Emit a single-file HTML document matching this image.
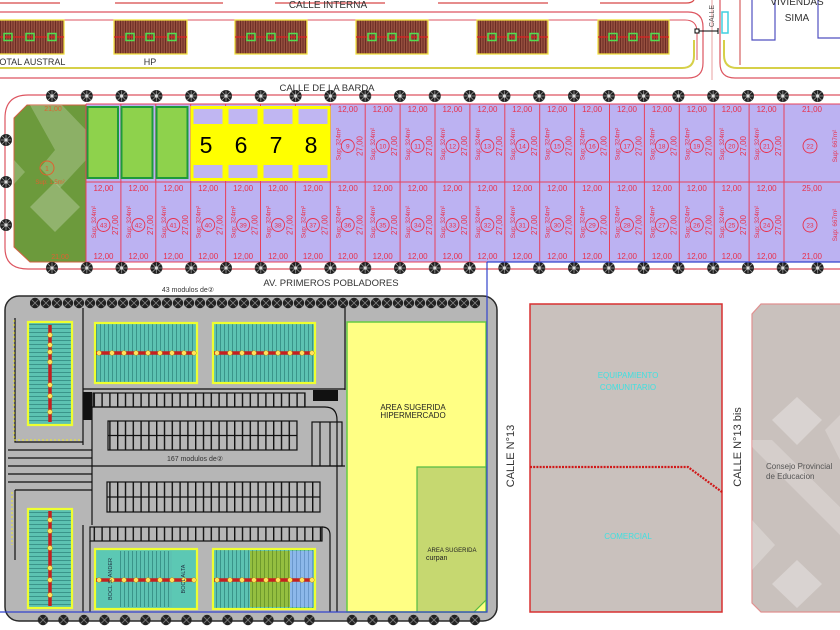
<!DOCTYPE html>
<html><head><meta charset="utf-8">
<style>
html,body{margin:0;padding:0;background:#fff;}
svg{display:block;font-family:"Liberation Sans",Arial,sans-serif;}
.m{font-size:8px;fill:#e8304c;text-anchor:middle}
.s{font-size:6.3px;fill:#e8304c;text-anchor:middle}
.n{font-size:6.5px;fill:#e8304c;text-anchor:middle}
.c{fill:none;stroke:#e8304c;stroke-width:0.9}
.big{font-size:23px;fill:#000;text-anchor:middle}
</style></head><body>
<svg width="840" height="630" viewBox="0 0 840 630" xmlns="http://www.w3.org/2000/svg">
<defs>
<pattern id="hatch" width="2.5" height="10" patternUnits="userSpaceOnUse"><rect width="2.5" height="10" fill="#96503f"/><rect width="1" height="10" fill="#6b2c24"/></pattern>
<pattern id="vstr" width="4" height="10" patternUnits="userSpaceOnUse"><rect width="4" height="10" fill="#5cc2b2"/><rect width="1" height="10" fill="#3a948a"/></pattern>
<pattern id="hstr" width="10" height="4" patternUnits="userSpaceOnUse"><rect width="10" height="4" fill="#5cc2b2"/><rect width="10" height="1" fill="#3a948a"/></pattern>
<pattern id="ostr" width="4" height="10" patternUnits="userSpaceOnUse"><rect width="4" height="10" fill="#94bf40"/><rect width="1" height="10" fill="#6e9a2c"/></pattern>
<pattern id="bstr" width="4" height="10" patternUnits="userSpaceOnUse"><rect width="4" height="10" fill="#8cb8ea"/><rect width="1" height="10" fill="#6a98cc"/></pattern>
<pattern id="stp" width="7.8" height="60" patternUnits="userSpaceOnUse"><rect x="0" width="1.4" height="60" fill="#111"/></pattern>
<g id="tr"><circle r="6" fill="#1e1e1e"/><path d="M-4 -4L4 4M-4 4L4 -4M0 -5.5V5.5M-5.5 0H5.5" stroke="#9a9a9a" stroke-width="0.8"/><circle r="1.6" fill="#ddd"/></g>
<g id="ptr"><circle r="5.2" fill="#222"/><path d="M-3.5 -3.5L3.5 3.5M-3.5 3.5L3.5 -3.5" stroke="#888" stroke-width="0.8"/></g>
<pattern id="tp1" x="34.6" y="89" width="34.8" height="14" patternUnits="userSpaceOnUse"><use href="#tr" x="17.4" y="7"/></pattern>
<pattern id="tp2" x="34.6" y="261" width="34.8" height="14" patternUnits="userSpaceOnUse"><use href="#tr" x="17.4" y="7"/></pattern>
<pattern id="pp1" x="29.5" y="297" width="11" height="12" patternUnits="userSpaceOnUse"><use href="#ptr" x="5.5" y="6"/></pattern>
<pattern id="pp2" x="32.75" y="614" width="20.5" height="12" patternUnits="userSpaceOnUse"><use href="#ptr" x="10.25" y="6"/></pattern>
<pattern id="pp3" x="341.75" y="614" width="20.5" height="12" patternUnits="userSpaceOnUse"><use href="#ptr" x="10.25" y="6"/></pattern>
</defs>

<!-- ===== TOP AREA ===== -->
<path d="M0 3H60M115 3H223M275 3H385M438 3H548M600 3H686Q692 3 694 0" stroke="#d84848" stroke-width="1.2" fill="none"/>
<text x="328" y="8" font-size="10" fill="#333" text-anchor="middle">CALLE INTERNA</text>
<path d="M0 12H688Q703 12 703 27V63Q703 78 688 78H0" stroke="#dd5560" stroke-width="1.2" fill="none"/>
<path d="M60 20H685Q697 20 697 32V60" stroke="#dd5560" stroke-width="1" fill="none"/>
<path d="M0 68H682Q694 68 694 56V40" stroke="#d6d048" stroke-width="2" fill="none"/>
<path d="M712 0V80" stroke="#e8a0a0" stroke-width="1" fill="none"/>
<path d="M840 78H735Q720 78 720 63V0" stroke="#dd5560" stroke-width="1.2" fill="none"/>
<path d="M840 68H737Q724 68 724 55V40" stroke="#d6d048" stroke-width="2" fill="none"/>
<path d="M740 0V65" stroke="#cc4040" stroke-width="1" fill="none"/>
<rect x="722" y="12" width="6" height="21" fill="none" stroke="#40d0e0" stroke-width="1.5"/>
<rect x="695" y="29" width="4" height="4" fill="#fff" stroke="#000" stroke-width="1"/>
<path d="M699 31H718M718 28V34" stroke="#000" stroke-width="1"/>
<text transform="translate(714,16) rotate(-90)" font-size="7" fill="#555" text-anchor="middle">CALLE</text>
<path d="M752 0V40H775V0M818 0V38H840" stroke="#5050c0" stroke-width="1.2" fill="none"/>
<text x="797" y="5" font-size="10" fill="#333" text-anchor="middle">VIVIENDAS</text>
<text x="797" y="21" font-size="10" fill="#333" text-anchor="middle">SIMA</text>

<!-- buildings -->
<g stroke="#f0e040" stroke-width="1.3">
<rect x="-8" y="20" width="72" height="34" fill="url(#hatch)"/>
<rect x="114" y="20" width="73" height="34" fill="url(#hatch)"/>
<rect x="235" y="20" width="72" height="34" fill="url(#hatch)"/>
<rect x="356" y="20" width="72" height="34" fill="url(#hatch)"/>
<rect x="477" y="20" width="71" height="34" fill="url(#hatch)"/>
<rect x="598" y="20" width="71" height="34" fill="url(#hatch)"/>
</g>
<path d="M-8 37H64M114 37H187M235 37H307M356 37H428M477 37H548M598 37H669" stroke="#e02020" stroke-width="1.3"/>
<g fill="none" stroke="#50e050" stroke-width="1.5">
<rect x="4" y="33.5" width="8" height="7"/><rect x="26" y="33.5" width="8" height="7"/><rect x="48" y="33.5" width="8" height="7"/>
<rect x="126" y="33.5" width="8" height="7"/><rect x="146" y="33.5" width="8" height="7"/><rect x="168" y="33.5" width="8" height="7"/>
<rect x="247" y="33.5" width="8" height="7"/><rect x="267" y="33.5" width="8" height="7"/><rect x="289" y="33.5" width="8" height="7"/>
<rect x="368" y="33.5" width="8" height="7"/><rect x="388" y="33.5" width="8" height="7"/><rect x="410" y="33.5" width="8" height="7"/>
<rect x="488" y="33.5" width="8" height="7"/><rect x="508" y="33.5" width="8" height="7"/><rect x="530" y="33.5" width="8" height="7"/>
<rect x="609" y="33.5" width="8" height="7"/><rect x="629" y="33.5" width="8" height="7"/><rect x="651" y="33.5" width="8" height="7"/>
</g>
<text x="-6" y="65" font-size="9" fill="#333">TOTAL AUSTRAL</text>
<text x="150" y="65" font-size="9" fill="#333" text-anchor="middle">HP</text>
<text x="327" y="91" font-size="9.5" fill="#333" text-anchor="middle">CALLE DE LA BARDA</text>

<!-- ===== LOTS ===== -->
<path d="M840 95H28Q5 95 5 118V248Q5 269 28 269H840" stroke="#dd5560" stroke-width="1.2" fill="none"/>
<rect x="86" y="104" width="760" height="158" fill="#bcb2f2"/>
<polygon points="14,118 27,105 86,105 86,262 30,262 14,247" fill="#6c9a3c" stroke="#d06040" stroke-width="1"/>
<polygon points="30,105 62,105 86,130 86,160 60,188 40,168 55,150" fill="#fff" opacity="0.22"/>
<polygon points="55,182 80,207 55,232 30,207" fill="#fff" opacity="0.25"/>
<polygon points="14,160 25,172 14,184" fill="#fff" opacity="0.22"/>
<circle cx="47" cy="168" r="7" fill="none" stroke="#e06030" stroke-width="1"/>
<text x="47" y="171" font-size="7" fill="#e06030" text-anchor="middle">1</text>
<text x="50" y="184" font-size="6" fill="#e06030" text-anchor="middle">Sup: 1.5m²</text>
<text x="60" y="259" font-size="7" fill="#e06030" text-anchor="middle">21,00</text>
<text x="53" y="111" font-size="7" fill="#e06030" text-anchor="middle">21,00</text>

<path d="M86 104H840M86 182H840M86 262H840M86 104V262M120.9 104V262M155.8 104V262M190.7 104V262M225.6 104V262M260.5 104V262M295.4 104V262M330.3 104V262M365.2 104V262M400.1 104V262M435 104V262M469.9 104V262M504.8 104V262M539.7 104V262M574.6 104V262M609.5 104V262M644.4 104V262M679.3 104V262M714.2 104V262M749.1 104V262M784 104V262" stroke="#e8405a" stroke-width="1" fill="none"/>

<!-- green lots -->
<g fill="#8ed24c" stroke="#1e9a3a" stroke-width="2">
<rect x="87.5" y="107" width="30.5" height="71"/>
<rect x="121.5" y="107" width="31" height="71"/>
<rect x="156.5" y="107" width="31" height="71"/>
</g>
<!-- yellow lots -->
<g>
<rect x="192" y="107.5" width="32" height="72" fill="#c0b6f2" stroke="#ffff00" stroke-width="3"/><rect x="193.5" y="124" width="29" height="41" fill="#ffff00"/>
<rect x="227" y="107.5" width="32" height="72" fill="#c0b6f2" stroke="#ffff00" stroke-width="3"/><rect x="228.5" y="124" width="29" height="41" fill="#ffff00"/>
<rect x="262" y="107.5" width="32" height="72" fill="#c0b6f2" stroke="#ffff00" stroke-width="3"/><rect x="263.5" y="124" width="29" height="41" fill="#ffff00"/>
<rect x="297" y="107.5" width="32" height="72" fill="#c0b6f2" stroke="#ffff00" stroke-width="3"/><rect x="298.5" y="124" width="29" height="41" fill="#ffff00"/>
<text x="206" y="153" class="big">5</text>
<text x="241" y="153" class="big">6</text>
<text x="276" y="153" class="big">7</text>
<text x="311" y="153" class="big">8</text>
</g>

<!-- top row lots 9-21 -->
<g transform="translate(330.3,0)"><text x="17.5" y="112" class="m">12,00</text><text transform="translate(10,144) rotate(-90)" class="s">Sup: 324m²</text><circle cx="17.5" cy="146" r="6.5" class="c"/><text x="17.5" y="148.5" class="n">9</text><text transform="translate(32,146) rotate(-90)" class="m">27,00</text></g>
<g transform="translate(365.2,0)"><text x="17.5" y="112" class="m">12,00</text><text transform="translate(10,144) rotate(-90)" class="s">Sup: 324m²</text><circle cx="17.5" cy="146" r="6.5" class="c"/><text x="17.5" y="148.5" class="n">10</text><text transform="translate(32,146) rotate(-90)" class="m">27,00</text></g>
<g transform="translate(400.1,0)"><text x="17.5" y="112" class="m">12,00</text><text transform="translate(10,144) rotate(-90)" class="s">Sup: 324m²</text><circle cx="17.5" cy="146" r="6.5" class="c"/><text x="17.5" y="148.5" class="n">11</text><text transform="translate(32,146) rotate(-90)" class="m">27,00</text></g>
<g transform="translate(435,0)"><text x="17.5" y="112" class="m">12,00</text><text transform="translate(10,144) rotate(-90)" class="s">Sup: 324m²</text><circle cx="17.5" cy="146" r="6.5" class="c"/><text x="17.5" y="148.5" class="n">12</text><text transform="translate(32,146) rotate(-90)" class="m">27,00</text></g>
<g transform="translate(469.9,0)"><text x="17.5" y="112" class="m">12,00</text><text transform="translate(10,144) rotate(-90)" class="s">Sup: 324m²</text><circle cx="17.5" cy="146" r="6.5" class="c"/><text x="17.5" y="148.5" class="n">13</text><text transform="translate(32,146) rotate(-90)" class="m">27,00</text></g>
<g transform="translate(504.8,0)"><text x="17.5" y="112" class="m">12,00</text><text transform="translate(10,144) rotate(-90)" class="s">Sup: 324m²</text><circle cx="17.5" cy="146" r="6.5" class="c"/><text x="17.5" y="148.5" class="n">14</text><text transform="translate(32,146) rotate(-90)" class="m">27,00</text></g>
<g transform="translate(539.7,0)"><text x="17.5" y="112" class="m">12,00</text><text transform="translate(10,144) rotate(-90)" class="s">Sup: 324m²</text><circle cx="17.5" cy="146" r="6.5" class="c"/><text x="17.5" y="148.5" class="n">15</text><text transform="translate(32,146) rotate(-90)" class="m">27,00</text></g>
<g transform="translate(574.6,0)"><text x="17.5" y="112" class="m">12,00</text><text transform="translate(10,144) rotate(-90)" class="s">Sup: 324m²</text><circle cx="17.5" cy="146" r="6.5" class="c"/><text x="17.5" y="148.5" class="n">16</text><text transform="translate(32,146) rotate(-90)" class="m">27,00</text></g>
<g transform="translate(609.5,0)"><text x="17.5" y="112" class="m">12,00</text><text transform="translate(10,144) rotate(-90)" class="s">Sup: 324m²</text><circle cx="17.5" cy="146" r="6.5" class="c"/><text x="17.5" y="148.5" class="n">17</text><text transform="translate(32,146) rotate(-90)" class="m">27,00</text></g>
<g transform="translate(644.4,0)"><text x="17.5" y="112" class="m">12,00</text><text transform="translate(10,144) rotate(-90)" class="s">Sup: 324m²</text><circle cx="17.5" cy="146" r="6.5" class="c"/><text x="17.5" y="148.5" class="n">18</text><text transform="translate(32,146) rotate(-90)" class="m">27,00</text></g>
<g transform="translate(679.3,0)"><text x="17.5" y="112" class="m">12,00</text><text transform="translate(10,144) rotate(-90)" class="s">Sup: 324m²</text><circle cx="17.5" cy="146" r="6.5" class="c"/><text x="17.5" y="148.5" class="n">19</text><text transform="translate(32,146) rotate(-90)" class="m">27,00</text></g>
<g transform="translate(714.2,0)"><text x="17.5" y="112" class="m">12,00</text><text transform="translate(10,144) rotate(-90)" class="s">Sup: 324m²</text><circle cx="17.5" cy="146" r="6.5" class="c"/><text x="17.5" y="148.5" class="n">20</text><text transform="translate(32,146) rotate(-90)" class="m">27,00</text></g>
<g transform="translate(749.1,0)"><text x="17.5" y="112" class="m">12,00</text><text transform="translate(10,144) rotate(-90)" class="s">Sup: 324m²</text><circle cx="17.5" cy="146" r="6.5" class="c"/><text x="17.5" y="148.5" class="n">21</text><text transform="translate(32,146) rotate(-90)" class="m">27,00</text></g>
<g transform="translate(784,0)"><text x="28" y="112" class="m">21,00</text><circle cx="26" cy="146" r="7" class="c"/><text x="26" y="148.5" class="n">22</text><text transform="translate(53,146) rotate(-90)" class="s">Sup: 667m²</text></g>

<!-- bottom row lots 43-24 -->
<g transform="translate(86,0)"><text x="17.5" y="191" class="m">12,00</text><text transform="translate(10,222) rotate(-90)" class="s">Sup: 324m²</text><circle cx="17.5" cy="225" r="6.5" class="c"/><text x="17.5" y="227.5" class="n">43</text><text transform="translate(32,225) rotate(-90)" class="m">27,00</text><text x="17.5" y="259" class="m">12,00</text></g>
<g transform="translate(120.9,0)"><text x="17.5" y="191" class="m">12,00</text><text transform="translate(10,222) rotate(-90)" class="s">Sup: 324m²</text><circle cx="17.5" cy="225" r="6.5" class="c"/><text x="17.5" y="227.5" class="n">42</text><text transform="translate(32,225) rotate(-90)" class="m">27,00</text><text x="17.5" y="259" class="m">12,00</text></g>
<g transform="translate(155.8,0)"><text x="17.5" y="191" class="m">12,00</text><text transform="translate(10,222) rotate(-90)" class="s">Sup: 324m²</text><circle cx="17.5" cy="225" r="6.5" class="c"/><text x="17.5" y="227.5" class="n">41</text><text transform="translate(32,225) rotate(-90)" class="m">27,00</text><text x="17.5" y="259" class="m">12,00</text></g>
<g transform="translate(190.7,0)"><text x="17.5" y="191" class="m">12,00</text><text transform="translate(10,222) rotate(-90)" class="s">Sup: 324m²</text><circle cx="17.5" cy="225" r="6.5" class="c"/><text x="17.5" y="227.5" class="n">40</text><text transform="translate(32,225) rotate(-90)" class="m">27,00</text><text x="17.5" y="259" class="m">12,00</text></g>
<g transform="translate(225.6,0)"><text x="17.5" y="191" class="m">12,00</text><text transform="translate(10,222) rotate(-90)" class="s">Sup: 324m²</text><circle cx="17.5" cy="225" r="6.5" class="c"/><text x="17.5" y="227.5" class="n">39</text><text transform="translate(32,225) rotate(-90)" class="m">27,00</text><text x="17.5" y="259" class="m">12,00</text></g>
<g transform="translate(260.5,0)"><text x="17.5" y="191" class="m">12,00</text><text transform="translate(10,222) rotate(-90)" class="s">Sup: 324m²</text><circle cx="17.5" cy="225" r="6.5" class="c"/><text x="17.5" y="227.5" class="n">38</text><text transform="translate(32,225) rotate(-90)" class="m">27,00</text><text x="17.5" y="259" class="m">12,00</text></g>
<g transform="translate(295.4,0)"><text x="17.5" y="191" class="m">12,00</text><text transform="translate(10,222) rotate(-90)" class="s">Sup: 324m²</text><circle cx="17.5" cy="225" r="6.5" class="c"/><text x="17.5" y="227.5" class="n">37</text><text transform="translate(32,225) rotate(-90)" class="m">27,00</text><text x="17.5" y="259" class="m">12,00</text></g>
<g transform="translate(330.3,0)"><text x="17.5" y="191" class="m">12,00</text><text transform="translate(10,222) rotate(-90)" class="s">Sup: 324m²</text><circle cx="17.5" cy="225" r="6.5" class="c"/><text x="17.5" y="227.5" class="n">36</text><text transform="translate(32,225) rotate(-90)" class="m">27,00</text><text x="17.5" y="259" class="m">12,00</text></g>
<g transform="translate(365.2,0)"><text x="17.5" y="191" class="m">12,00</text><text transform="translate(10,222) rotate(-90)" class="s">Sup: 324m²</text><circle cx="17.5" cy="225" r="6.5" class="c"/><text x="17.5" y="227.5" class="n">35</text><text transform="translate(32,225) rotate(-90)" class="m">27,00</text><text x="17.5" y="259" class="m">12,00</text></g>
<g transform="translate(400.1,0)"><text x="17.5" y="191" class="m">12,00</text><text transform="translate(10,222) rotate(-90)" class="s">Sup: 324m²</text><circle cx="17.5" cy="225" r="6.5" class="c"/><text x="17.5" y="227.5" class="n">34</text><text transform="translate(32,225) rotate(-90)" class="m">27,00</text><text x="17.5" y="259" class="m">12,00</text></g>
<g transform="translate(435,0)"><text x="17.5" y="191" class="m">12,00</text><text transform="translate(10,222) rotate(-90)" class="s">Sup: 324m²</text><circle cx="17.5" cy="225" r="6.5" class="c"/><text x="17.5" y="227.5" class="n">33</text><text transform="translate(32,225) rotate(-90)" class="m">27,00</text><text x="17.5" y="259" class="m">12,00</text></g>
<g transform="translate(469.9,0)"><text x="17.5" y="191" class="m">12,00</text><text transform="translate(10,222) rotate(-90)" class="s">Sup: 324m²</text><circle cx="17.5" cy="225" r="6.5" class="c"/><text x="17.5" y="227.5" class="n">32</text><text transform="translate(32,225) rotate(-90)" class="m">27,00</text><text x="17.5" y="259" class="m">12,00</text></g>
<g transform="translate(504.8,0)"><text x="17.5" y="191" class="m">12,00</text><text transform="translate(10,222) rotate(-90)" class="s">Sup: 324m²</text><circle cx="17.5" cy="225" r="6.5" class="c"/><text x="17.5" y="227.5" class="n">31</text><text transform="translate(32,225) rotate(-90)" class="m">27,00</text><text x="17.5" y="259" class="m">12,00</text></g>
<g transform="translate(539.7,0)"><text x="17.5" y="191" class="m">12,00</text><text transform="translate(10,222) rotate(-90)" class="s">Sup: 324m²</text><circle cx="17.5" cy="225" r="6.5" class="c"/><text x="17.5" y="227.5" class="n">30</text><text transform="translate(32,225) rotate(-90)" class="m">27,00</text><text x="17.5" y="259" class="m">12,00</text></g>
<g transform="translate(574.6,0)"><text x="17.5" y="191" class="m">12,00</text><text transform="translate(10,222) rotate(-90)" class="s">Sup: 324m²</text><circle cx="17.5" cy="225" r="6.5" class="c"/><text x="17.5" y="227.5" class="n">29</text><text transform="translate(32,225) rotate(-90)" class="m">27,00</text><text x="17.5" y="259" class="m">12,00</text></g>
<g transform="translate(609.5,0)"><text x="17.5" y="191" class="m">12,00</text><text transform="translate(10,222) rotate(-90)" class="s">Sup: 324m²</text><circle cx="17.5" cy="225" r="6.5" class="c"/><text x="17.5" y="227.5" class="n">28</text><text transform="translate(32,225) rotate(-90)" class="m">27,00</text><text x="17.5" y="259" class="m">12,00</text></g>
<g transform="translate(644.4,0)"><text x="17.5" y="191" class="m">12,00</text><text transform="translate(10,222) rotate(-90)" class="s">Sup: 324m²</text><circle cx="17.5" cy="225" r="6.5" class="c"/><text x="17.5" y="227.5" class="n">27</text><text transform="translate(32,225) rotate(-90)" class="m">27,00</text><text x="17.5" y="259" class="m">12,00</text></g>
<g transform="translate(679.3,0)"><text x="17.5" y="191" class="m">12,00</text><text transform="translate(10,222) rotate(-90)" class="s">Sup: 324m²</text><circle cx="17.5" cy="225" r="6.5" class="c"/><text x="17.5" y="227.5" class="n">26</text><text transform="translate(32,225) rotate(-90)" class="m">27,00</text><text x="17.5" y="259" class="m">12,00</text></g>
<g transform="translate(714.2,0)"><text x="17.5" y="191" class="m">12,00</text><text transform="translate(10,222) rotate(-90)" class="s">Sup: 324m²</text><circle cx="17.5" cy="225" r="6.5" class="c"/><text x="17.5" y="227.5" class="n">25</text><text transform="translate(32,225) rotate(-90)" class="m">27,00</text><text x="17.5" y="259" class="m">12,00</text></g>
<g transform="translate(749.1,0)"><text x="17.5" y="191" class="m">12,00</text><text transform="translate(10,222) rotate(-90)" class="s">Sup: 324m²</text><circle cx="17.5" cy="225" r="6.5" class="c"/><text x="17.5" y="227.5" class="n">24</text><text transform="translate(32,225) rotate(-90)" class="m">27,00</text><text x="17.5" y="259" class="m">12,00</text></g>
<g transform="translate(784,0)"><text x="28" y="191" class="m">25,00</text><circle cx="26" cy="225" r="7" class="c"/><text x="26" y="227.5" class="n">23</text><text transform="translate(53,225) rotate(-90)" class="s">Sup: 667m²</text><text x="28" y="259" class="m">21,00</text></g>

<!-- trees along lots -->
<rect x="40" y="89" width="800" height="14" fill="url(#tp1)"/>
<rect x="40" y="261" width="800" height="14" fill="url(#tp2)"/>
<use href="#tr" x="6" y="140"/><use href="#tr" x="6" y="182"/><use href="#tr" x="6" y="225"/>

<!-- blue line -->
<path d="M487 262H840" stroke="#3344cc" stroke-width="1.2" fill="none"/>
<text x="331" y="286" font-size="9.5" fill="#333" text-anchor="middle">AV. PRIMEROS POBLADORES</text>
<text x="188" y="292" font-size="7" fill="#333" text-anchor="middle">43 modulos de②</text>

<!-- ===== PARKING / COMMERCIAL BLOCK ===== -->
<rect x="5" y="296" width="492" height="325" rx="14" fill="#b6b6b6" stroke="#2a2a2a" stroke-width="1.5"/>
<rect x="347" y="322" width="139" height="290" fill="#ffff84" stroke="#66cc44" stroke-width="1.5"/>
<path d="M417 467H486V600L474 612H417Z" fill="#c6d870" stroke="#55bb44" stroke-width="1.2"/>
<text x="413" y="410" font-size="8" fill="#222" text-anchor="middle">AREA SUGERIDA</text>
<text x="413" y="418" font-size="8" fill="#222" text-anchor="middle">HIPERMERCADO</text>
<text x="452" y="552" font-size="6" fill="#222" text-anchor="middle">AREA SUGERIDA</text>
<text x="426" y="560" font-size="7" fill="#222">curpan</text>

<!-- internal roads -->
<g stroke="#111" stroke-width="1.2" fill="none">
<path d="M15 318V442H83"/>
<path d="M83 308V445"/>
<path d="M83 389H345"/>
<path d="M345 303V390"/>
<path d="M8 450H92M8 458H92M8 466H92M8 474H92M8 482H92M15 490H92"/>
<path d="M92 407V525"/>
<path d="M92 407H325Q337 407 337 420V612"/>
<path d="M92 466H345"/>
<path d="M15 490V560"/>
<path d="M83 525V612M90 541V612"/>
<path d="M322 527Q330 527 330 535V612"/>
</g>
<path d="M14 320V440H82M12 492V545" stroke="#e6e040" stroke-width="1.2" stroke-dasharray="2,2" fill="none"/>
<rect x="83" y="392" width="9" height="28" fill="#111"/>
<rect x="313" y="390" width="25" height="11" fill="#111"/>

<!-- stalls -->
<rect x="93" y="393" width="212" height="14" fill="url(#stp)" stroke="#111" stroke-width="1.2"/>
<rect x="108" y="421" width="189" height="29" fill="url(#stp)" stroke="#111" stroke-width="1.2"/>
<path d="M108 435.5H297" stroke="#111" stroke-width="1.2"/>
<rect x="312" y="422" width="30" height="44" fill="none" stroke="#111" stroke-width="1.2"/>
<path d="M320 422V466M330 422V466" stroke="#111" stroke-width="1.2"/>
<rect x="107" y="482" width="213" height="30" fill="url(#stp)" stroke="#111" stroke-width="1.2"/>
<path d="M107 497H320" stroke="#111" stroke-width="1.2"/>
<rect x="90" y="527" width="232" height="14" fill="url(#stp)" stroke="#111" stroke-width="1.2"/>
<text x="195" y="461" font-size="7" fill="#333" text-anchor="middle">167 modulos de②</text>

<!-- solar modules -->
<g stroke="#eeff30" stroke-width="2.2">
<rect x="28" y="322" width="44" height="103" fill="url(#hstr)"/>
<rect x="95" y="323" width="102" height="60" fill="url(#vstr)"/>
<rect x="213" y="323" width="102" height="60" fill="url(#vstr)"/>
<rect x="28" y="509" width="44" height="99" fill="url(#hstr)"/>
<rect x="95" y="549" width="102" height="60" fill="#5cc8b4"/>
<rect x="213" y="549" width="102" height="60" fill="url(#vstr)"/>
</g>
<rect x="120" y="551" width="52" height="56" fill="url(#vstr)"/>
<rect x="250" y="551" width="40" height="56" fill="url(#ostr)"/>
<rect x="290" y="551" width="23" height="56" fill="url(#bstr)"/>
<g stroke="#c42020" stroke-width="3.5">
<path d="M50 325V422M50 511V606M96 353H196M214 353H314M96 580H196M214 580H314"/>
</g>
<g fill="#ffe060" stroke="#c8a000" stroke-width="0.5">
<circle cx="50" cy="335" r="2.3"/><circle cx="50" cy="345" r="2.3"/><circle cx="50" cy="352" r="2.3"/><circle cx="50" cy="362" r="2.3"/><circle cx="50" cy="385" r="2.3"/><circle cx="50" cy="396" r="2.3"/><circle cx="50" cy="412" r="2.3"/>
<circle cx="50" cy="520" r="2.3"/><circle cx="50" cy="531" r="2.3"/><circle cx="50" cy="548" r="2.3"/><circle cx="50" cy="568" r="2.3"/><circle cx="50" cy="580" r="2.3"/><circle cx="50" cy="595" r="2.3"/>
<circle cx="99" cy="353" r="2.3"/><circle cx="112" cy="353" r="2.3"/><circle cx="124" cy="353" r="2.3"/><circle cx="136" cy="353" r="2.3"/><circle cx="148" cy="353" r="2.3"/><circle cx="160" cy="353" r="2.3"/><circle cx="172" cy="353" r="2.3"/><circle cx="184" cy="353" r="2.3"/><circle cx="194" cy="353" r="2.3"/>
<circle cx="217" cy="353" r="2.3"/><circle cx="230" cy="353" r="2.3"/><circle cx="242" cy="353" r="2.3"/><circle cx="254" cy="353" r="2.3"/><circle cx="266" cy="353" r="2.3"/><circle cx="278" cy="353" r="2.3"/><circle cx="290" cy="353" r="2.3"/><circle cx="302" cy="353" r="2.3"/><circle cx="312" cy="353" r="2.3"/>
<circle cx="99" cy="580" r="2.3"/><circle cx="112" cy="580" r="2.3"/><circle cx="124" cy="580" r="2.3"/><circle cx="136" cy="580" r="2.3"/><circle cx="148" cy="580" r="2.3"/><circle cx="160" cy="580" r="2.3"/><circle cx="172" cy="580" r="2.3"/><circle cx="184" cy="580" r="2.3"/><circle cx="194" cy="580" r="2.3"/>
<circle cx="217" cy="580" r="2.3"/><circle cx="230" cy="580" r="2.3"/><circle cx="242" cy="580" r="2.3"/><circle cx="254" cy="580" r="2.3"/><circle cx="266" cy="580" r="2.3"/><circle cx="278" cy="580" r="2.3"/><circle cx="290" cy="580" r="2.3"/><circle cx="302" cy="580" r="2.3"/><circle cx="312" cy="580" r="2.3"/>
</g>
<text transform="translate(112,579) rotate(-90)" font-size="5.5" fill="#234" text-anchor="middle">BOCL S. ANDER</text>
<text transform="translate(185,579) rotate(-90)" font-size="5.5" fill="#234" text-anchor="middle">BOCL ALTA</text>

<!-- parking trees -->
<rect x="30" y="297" width="450" height="12" fill="url(#pp1)"/>
<rect x="33" y="614" width="290" height="12" fill="url(#pp2)"/>
<rect x="342" y="614" width="140" height="12" fill="url(#pp3)"/>

<!-- blue boundary -->
<path d="M487 262V612H0" stroke="#3344cc" stroke-width="1.2" fill="none"/>

<!-- ===== RIGHT SIDE ===== -->
<text transform="translate(514,456) rotate(-90)" font-size="11" fill="#333" text-anchor="middle">CALLE  N°13</text>
<rect x="530" y="304" width="192" height="308" fill="#c9c1bd" stroke="#d83030" stroke-width="1.5"/>
<path d="M530 467H688L722 492" stroke="#d01818" stroke-width="2.2" stroke-dasharray="2,1.2" fill="none"/>
<text x="628" y="378" font-size="8" fill="#40e0e0" text-anchor="middle">EQUIPAMIENTO</text>
<text x="628" y="390" font-size="8" fill="#40e0e0" text-anchor="middle">COMUNITARIO</text>
<text x="628" y="539" font-size="8" fill="#40e0e0" text-anchor="middle">COMERCIAL</text>

<text transform="translate(741,447) rotate(-90)" font-size="11" fill="#333" text-anchor="middle">CALLE  N°13 bis</text>
<polygon points="761,304 845,304 845,612 761,612 752,603 752,314" fill="#c9c1bd" stroke="#e09090" stroke-width="1.2"/>
<polygon points="797,397 822,420 797,445 772,420" fill="#fff" opacity="0.3"/>
<polygon points="797,560 822,584 797,608 772,584" fill="#fff" opacity="0.3"/>
<polygon points="752,440 772,440 845,512 845,540 752,447" fill="#fff" opacity="0.22"/>
<polygon points="752,520 775,545 752,570" fill="#fff" opacity="0.25"/>
<polygon points="825,430 845,410 845,470" fill="#fff" opacity="0.22"/>
<text x="766" y="469" font-size="8" fill="#555">Consejo Provincial</text>
<text x="766" y="479" font-size="8" fill="#555">de Educacion</text>
</svg>
</body></html>
